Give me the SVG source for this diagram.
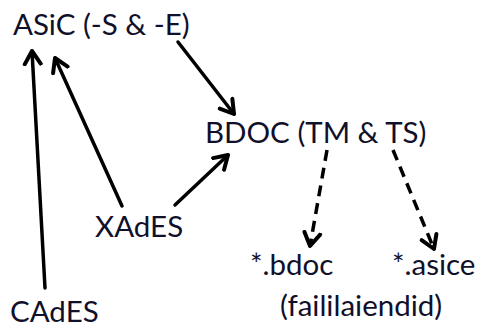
<svg xmlns="http://www.w3.org/2000/svg" width="489" height="329" viewBox="0 0 489 329">
<style>
text{font-family:Lato,"Open Sans","Liberation Sans",sans-serif;font-size:29.5px;fill:#10102a}
.c{stroke:#000;stroke-width:3.5;fill:none;stroke-linecap:round}
.d{stroke-dasharray:11 7;stroke-linecap:butt}
</style>
<defs>
<marker id="a" markerUnits="userSpaceOnUse" markerWidth="30" markerHeight="30" refX="0" refY="0" viewBox="-15 -15 30 30" orient="auto">
<path d="M-13,-8 L0,0 L-13,8" fill="none" stroke="#000" stroke-width="4" stroke-linecap="round" stroke-linejoin="round"/>
</marker>
</defs>
<rect width="489" height="329" fill="#fff"/>
<g id="asic"><text x="13" y="35">ASiC (-S &amp; -E)</text></g>
<g id="bdoc"><text x="205" y="143">BDOC (TM &amp; TS)</text></g>
<g id="xades"><text x="95" y="237">XAdES</text></g>
<g id="cades"><text x="10" y="322">CAdES</text></g>
<g id="ext-bdoc"><text x="250" y="275">*.bdoc</text></g>
<g id="ext-asice"><text x="392" y="275">*.asice</text></g>
<g id="note"><text x="280" y="316">(faililaiendid)</text></g>
<g id="connectors">
<line class="c" x1="45" y1="288" x2="32" y2="51" marker-end="url(#a)"/>
<line class="c" x1="122" y1="206" x2="55" y2="58" marker-end="url(#a)"/>
<line class="c" x1="175" y1="205" x2="228" y2="155" marker-end="url(#a)"/>
<line class="c" x1="178" y1="42" x2="234" y2="114" marker-end="url(#a)"/>
<line class="c d" x1="327" y1="150" x2="310" y2="246" marker-end="url(#a)"/>
<line class="c d" x1="393" y1="150" x2="434" y2="249" marker-end="url(#a)"/>
</g>
</svg>
